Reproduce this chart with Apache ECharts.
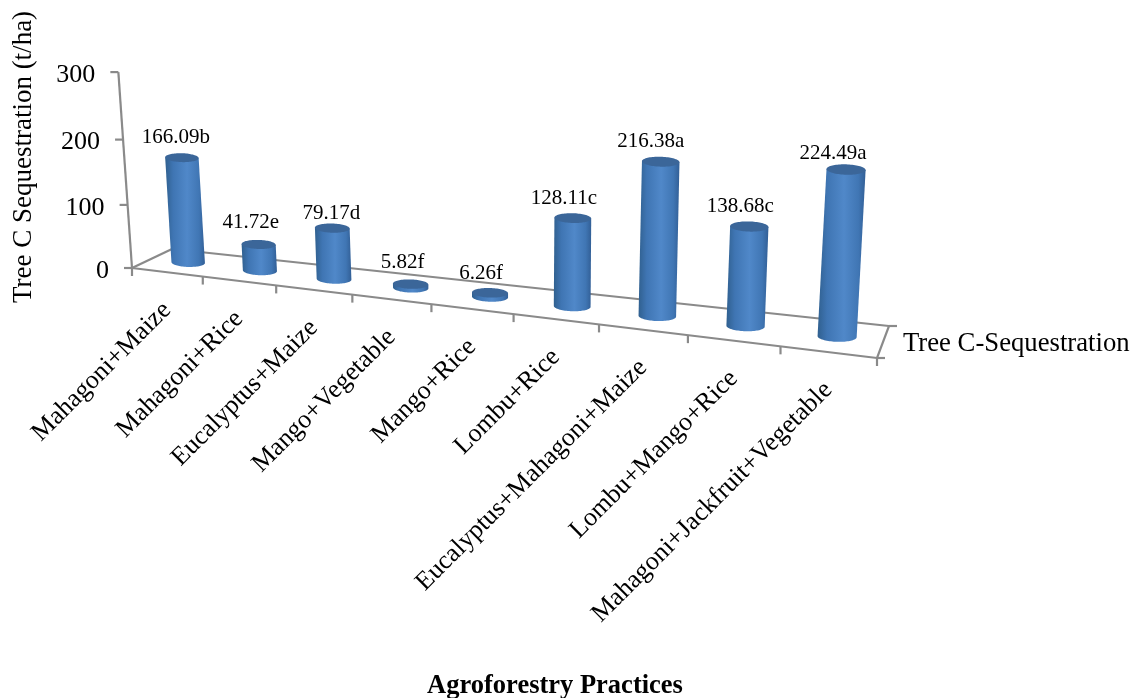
<!DOCTYPE html>
<html>
<head>
<meta charset="utf-8">
<title>Tree C Sequestration</title>
<script src="https://cdn.jsdelivr.net/npm/echarts@6/dist/echarts.min.js"></script>
<style>
  html, body { margin: 0; padding: 0; background: #fff; }
  #chart { width: 1132px; height: 698px; }
</style>
</head>
<body>
<div id="chart"></div>
<script>
// Chart data
const categories = [
  'Mahagoni+Maize', 'Mahagoni+Rice', 'Eucalyptus+Maize', 'Mango+Vegetable', 'Mango+Rice',
  'Lombu+Rice', 'Eucalyptus+Mahagoni+Maize', 'Lombu+Mango+Rice', 'Mahagoni+Jackfruit+Vegetable'
];
const carbonValues = [166.09, 41.72, 79.17, 5.82, 6.26, 128.11, 216.38, 138.68, 224.49];
const significance = ['b', 'e', 'd', 'f', 'f', 'c', 'a', 'c', 'a'];
const valueTicks = [0, 100, 200, 300];

const FONT = '"Liberation Serif", "Times New Roman", serif';
const AXIS_COLOR = '#8a8a8a';
const VALUE_MAX = 300;

// Perspective floor: front and back edges, each with its own foreshortening.
const frontEdge = { x0: 132, y0: 268, x1: 877, y1: 358, k: -0.16 };
const backEdge = { x0: 172, y0: 249, x1: 889, y1: 326, k: -0.13 };
const VANISH_X = 530, LEAN = 0.000175;

function along(edge, u) {
  const t = u * (1 + edge.k) / (1 + edge.k * u);
  return [edge.x0 + (edge.x1 - edge.x0) * t, edge.y0 + (edge.y1 - edge.y0) * t];
}
function floorPoint(u, d) {
  const f = along(frontEdge, u), b = along(backEdge, u);
  return [f[0] + (b[0] - f[0]) * d, f[1] + (b[1] - f[1]) * d];
}
function liftPoint(u, d, val) {
  const p = floorPoint(u, d);
  const h = val * (0.62 + 0.00011 * val) * (1 - 0.04 * d) / (1 + frontEdge.k * u);
  return [p[0] + h * (p[0] - VANISH_X) * LEAN, p[1] - h];
}

// Turn the hidden cartesian scales into normalised category and value positions.
function scales(params, api) {
  const g = params.coordSys;
  return {
    band: g.width / categories.length,
    u: px => (px - g.x) / g.width,
    val: py => (g.y + g.height - py) / g.height * VALUE_MAX,
    left: g.x
  };
}

function seg(a, b) {
  return {
    type: 'line',
    shape: { x1: a[0], y1: a[1], x2: b[0], y2: b[1] },
    style: { stroke: AXIS_COLOR, lineWidth: 2.2 }
  };
}

function label(text, x, y, size, align, rotation) {
  return {
    type: 'text', x: x, y: y, rotation: rotation || 0, z2: 20,
    style: { text: text, fontFamily: FONT, fontSize: size, fill: '#000', align: align, verticalAlign: 'middle' }
  };
}

// Floor outline, value axis and tick marks.
function renderFrame(params, api) {
  const s = scales(params, api);
  const kids = [];
  kids.push(seg(floorPoint(0, 0), floorPoint(1, 0)));
  kids.push(seg(floorPoint(0, 1), floorPoint(1, 1)));
  kids.push(seg(floorPoint(0, 0), floorPoint(0, 1)));
  kids.push(seg(floorPoint(1, 0), floorPoint(1, 1)));
  kids.push(seg(floorPoint(0, 0), liftPoint(0, 0, VALUE_MAX)));
  // category tick marks sit on the band edges
  for (let i = 0; i <= categories.length; i++) {
    const px = api.coord([0, 0])[0] - s.band / 2 + i * s.band;
    const p = floorPoint(s.u(px), 0);
    kids.push(seg(p, [p[0], p[1] + 8]));
  }
  // value ticks and their labels
  valueTicks.forEach(v => {
    const val = s.val(api.coord([0, v])[1]);
    const p = liftPoint(0, 0, val);
    kids.push(seg(p, [p[0] - 8, p[1]]));
    kids.push(label(String(v), p[0] - 23, p[1] + 3, 26, 'right'));
  });
  // depth-axis ticks at the right-hand end
  [0, 1].forEach(d => {
    const p = floorPoint(1, d);
    kids.push(seg(p, [p[0] + 8, p[1]]));
  });
  // category names run up to the front edge at 45 degrees
  categories.forEach((name, i) => {
    const p = floorPoint(s.u(api.coord([i, 0])[0]), 0);
    kids.push(label(name, p[0], p[1] + 34, 26, 'right', Math.PI / 4));
  });
  return { type: 'group', children: kids };
}

function ellipsePoint(c, rx, ry, a) {
  const r = 0.03;
  return [
    c[0] + rx * Math.cos(a) * Math.cos(r) - ry * Math.sin(a) * Math.sin(r),
    c[1] + rx * Math.cos(a) * Math.sin(r) + ry * Math.sin(a) * Math.cos(r)
  ];
}

const labelNudge = [[-6, -20], [-8, -22], [-1, -15], [-8, -22], [-9, -19], [-9, -20], [-10, -20], [-9, -20], [-13, -16]];

// One upright cylinder per category, with its value label above it.
function renderCylinder(params, api) {
  const s = scales(params, api);
  const i = api.value(0), v = api.value(1);
  const u = s.u(api.coord([i, 0])[0]);
  const val = s.val(api.coord([i, v])[1]);
  const depth = 0.5;
  const grow = 1 / (1 + frontEdge.k * u);
  const rx = 16.6 * grow, ry = 4.4 * grow;
  const base = floorPoint(u, depth);
  const top = liftPoint(u, depth, val);
  // cylinders sit a touch right of the band centre
  base[0] += 1.2;
  top[0] += 1.2;

  const body = [];
  const STEPS = 40;
  body.push(ellipsePoint(top, rx, ry, Math.PI));
  for (let n = 0; n <= STEPS; n++) {
    body.push(ellipsePoint(base, rx, ry, Math.PI - Math.PI * n / STEPS));
  }
  body.push(ellipsePoint(top, rx, ry, 0));
  const cap = [];
  for (let n = 0; n < STEPS * 2; n++) {
    cap.push(ellipsePoint(top, rx, ry, Math.PI * n / STEPS));
  }
  const text = v.toFixed(2) + significance[i];
  const nudge = labelNudge[i];
  return {
    type: 'group',
    children: [
      {
        type: 'polygon', shape: { points: body },
        style: {
          fill: {
            type: 'linear', x: 0, y: 0, x2: 1, y2: 0,
            colorStops: [
              { offset: 0, color: '#30608f' },
              { offset: 0.2, color: '#3f75b3' },
              { offset: 0.55, color: '#5088c9' },
              { offset: 0.85, color: '#4076b4' },
              { offset: 1, color: '#325f96' }
            ]
          }
        }
      },
      { type: 'polygon', shape: { points: cap }, style: { fill: '#3b6699' } },
      label(text, top[0] + nudge[0], top[1] + nudge[1], 21, 'center')
    ]
  };
}

const chart = echarts.init(document.getElementById('chart'), null, { renderer: 'canvas' });
chart.setOption({
  animation: false,
  backgroundColor: '#fff',
  grid: { left: 132, top: 72, width: 745, height: 196 },
  xAxis: { type: 'category', data: categories, show: false },
  yAxis: { type: 'value', min: 0, max: VALUE_MAX, interval: 100, show: false },
  graphic: [
    { type: 'text', x: 24, y: 157, rotation: Math.PI / 2,
      style: { text: 'Tree C Sequestration (t/ha)', fontFamily: FONT, fontSize: 27, fill: '#000', align: 'center', verticalAlign: 'middle' } },
    { type: 'text', x: 903, y: 344,
      style: { text: 'Tree C-Sequestration', fontFamily: FONT, fontSize: 26.7, fill: '#000', align: 'left', verticalAlign: 'middle' } },
    { type: 'text', x: 555, y: 686,
      style: { text: 'Agroforestry Practices', fontFamily: FONT, fontSize: 26.5, fontWeight: 'bold', fill: '#000', align: 'center', verticalAlign: 'middle' } }
  ],
  series: [
    { type: 'custom', name: 'Axes', coordinateSystem: 'cartesian2d', renderItem: renderFrame, data: [[0, 0]], silent: true, clip: false, z: 1 },
    { type: 'custom', name: 'Tree C-Sequestration', coordinateSystem: 'cartesian2d', renderItem: renderCylinder,
      data: carbonValues.map((v, i) => [i, v]), encode: { x: 0, y: 1 }, clip: false, z: 2 }
  ]
});
</script>
</body>
</html>
